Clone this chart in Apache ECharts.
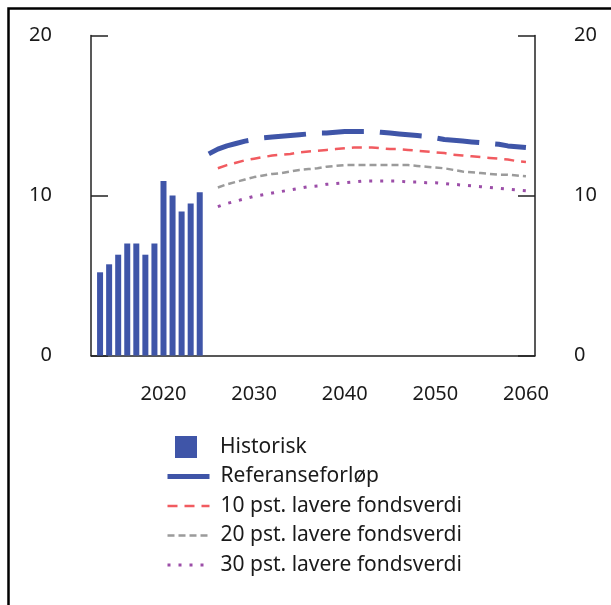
<!DOCTYPE html>
<html>
<head>
<meta charset="utf-8">
<script src="https://cdn.jsdelivr.net/npm/echarts@6/dist/echarts.min.js"></script>
<style>html,body{margin:0;padding:0;background:#fff}#c{width:611px;height:605px}</style>
</head>
<body>
<div id="c"></div>
<script>
const histYears = [2013,2014,2015,2016,2017,2018,2019,2020,2021,2022,2023,2024];
const histValues = [5.2,5.7,6.3,7.0,7.0,6.3,7.0,10.9,10.0,9.0,9.5,10.2];

const refYears = [2025,2026,2027,2028,2029,2030,2031,2032,2033,2034,2035,2036,2037,2038,2039,2040,2041,2042,2043,2044,2045,2046,2047,2048,2049,2050,2051,2052,2053,2054,2055,2056,2057,2058,2059,2060];
const refValues = [12.6,12.9,13.1,13.25,13.4,13.5,13.6,13.65,13.7,13.75,13.8,13.85,13.9,13.9,13.95,14.0,14.0,14.0,14.0,13.95,13.9,13.85,13.8,13.75,13.7,13.6,13.5,13.45,13.4,13.35,13.3,13.25,13.2,13.1,13.05,13.0];

const scenYears = [2026,2027,2028,2029,2030,2031,2032,2033,2034,2035,2036,2037,2038,2039,2040,2041,2042,2043,2044,2045,2046,2047,2048,2049,2050,2051,2052,2053,2054,2055,2056,2057,2058,2059,2060];
const minus10 = [11.7,11.9,12.05,12.2,12.3,12.4,12.5,12.55,12.6,12.7,12.75,12.8,12.85,12.9,12.95,13.0,13.0,13.0,12.95,12.9,12.9,12.85,12.8,12.75,12.7,12.65,12.55,12.5,12.45,12.4,12.35,12.3,12.25,12.15,12.1];
const minus20 = [10.5,10.7,10.85,11.0,11.15,11.25,11.35,11.4,11.5,11.6,11.65,11.7,11.8,11.85,11.9,11.9,11.9,11.9,11.9,11.9,11.9,11.9,11.85,11.8,11.75,11.7,11.6,11.5,11.45,11.4,11.35,11.3,11.3,11.25,11.2];
const minus30 = [9.3,9.5,9.65,9.8,9.95,10.05,10.15,10.25,10.35,10.45,10.55,10.6,10.7,10.75,10.8,10.85,10.9,10.9,10.9,10.9,10.9,10.85,10.85,10.8,10.8,10.75,10.7,10.65,10.6,10.55,10.5,10.45,10.4,10.35,10.3];

const names = ['Historisk','Referanseforløp','10 pst. lavere fondsverdi','20 pst. lavere fondsverdi','30 pst. lavere fondsverdi'];
const xTickLabels = [2020,2030,2040,2050,2060];
const yTicks = [0,10,20];

const pairs = (xs, ys) => xs.map((x, i) => [x, ys[i]]);
const FONT = 'Noto Sans';
const TXT = '#1a1a1a';
const AX = '#222';
const BLUE = '#3f55a8', RED = '#f15b60', GRAY = '#9b9b9b', PURPLE = '#9c4ea8';

const chart = echarts.init(document.getElementById('c'), null, {renderer: 'canvas'});

const yAxisBase = (pos) => ({
  type: 'value', position: pos, min: 0, max: 20, interval: 10,
  axisLine: {show: true, lineStyle: {color: AX, width: 1.5}},
  axisTick: {show: true, inside: true, length: 17, lineStyle: {color: AX, width: 1.5}},
  splitLine: {show: false},
  axisLabel: {color: TXT, fontFamily: FONT, fontSize: 20, margin: 39,
    formatter: v => yTicks.includes(v) ? String(v) : ''}
});

chart.setOption({
  animation: false,
  backgroundColor: '#fff',
  textStyle: {fontFamily: FONT},
  grid: {left: 91, right: 76, top: 35.5, bottom: 249.5, containLabel: false},
  xAxis: {
    type: 'value', min: 2012, max: 2061, interval: 1,
    axisLine: {show: true, lineStyle: {color: AX, width: 1.5}},
    axisTick: {show: false},
    splitLine: {show: false},
    axisLabel: {color: TXT, fontFamily: FONT, fontSize: 20, margin: 29,
      formatter: v => xTickLabels.includes(v) ? String(v) : ''}
  },
  yAxis: [yAxisBase('left'), yAxisBase('right')],
  legend: [
    {
      data: [names[0]], left: 175, top: 436, orient: 'vertical', padding: 0,
      itemWidth: 22, itemHeight: 22, icon: 'rect',
      textStyle: {color: TXT, fontFamily: FONT, fontSize: 21, padding: [0,0,0,18]},
      selectedMode: false
    },
    {
      data: [
        {name: names[1], lineStyle: {width: 5}},
        {name: names[2], lineStyle: {width: 2.5}},
        {name: names[3], lineStyle: {width: 2.5}},
        {name: names[4], lineStyle: {width: 3}}
      ],
      left: 165, top: 465.5, orient: 'vertical', padding: 0,
      itemWidth: 42, itemHeight: 14, itemGap: 7.5,
      itemStyle: {opacity: 0},
      textStyle: {color: TXT, fontFamily: FONT, fontSize: 21, lineHeight: 22, padding: [0,0,0,6]},
      selectedMode: false
    }
  ],
  graphic: [{
    type: 'rect', shape: {x: 8.5, y: 8.5, width: 800, height: 800},
    style: {fill: 'none', stroke: '#000', lineWidth: 2.5}, silent: true, z: 100
  }],
  series: [
    {
      name: names[0], type: 'bar', data: pairs(histYears, histValues),
      barWidth: 6, itemStyle: {color: BLUE}
    },
    {
      name: names[1], type: 'line', data: pairs(refYears, refValues),
      showSymbol: false, symbol: 'none',
      itemStyle: {color: BLUE},
      lineStyle: {color: BLUE, width: 5, type: [42, 16]}
    },
    {
      name: names[2], type: 'line', data: pairs(scenYears, minus10),
      showSymbol: false, symbol: 'none',
      itemStyle: {color: RED},
      lineStyle: {color: RED, width: 2.5, type: [10, 7]}
    },
    {
      name: names[3], type: 'line', data: pairs(scenYears, minus20),
      showSymbol: false, symbol: 'none',
      itemStyle: {color: GRAY},
      lineStyle: {color: GRAY, width: 2.5, type: [7, 4]}
    },
    {
      name: names[4], type: 'line', data: pairs(scenYears, minus30),
      showSymbol: false, symbol: 'none',
      itemStyle: {color: PURPLE},
      lineStyle: {color: PURPLE, width: 3, type: [3, 8]}
    }
  ]
});
</script>
</body>
</html>
